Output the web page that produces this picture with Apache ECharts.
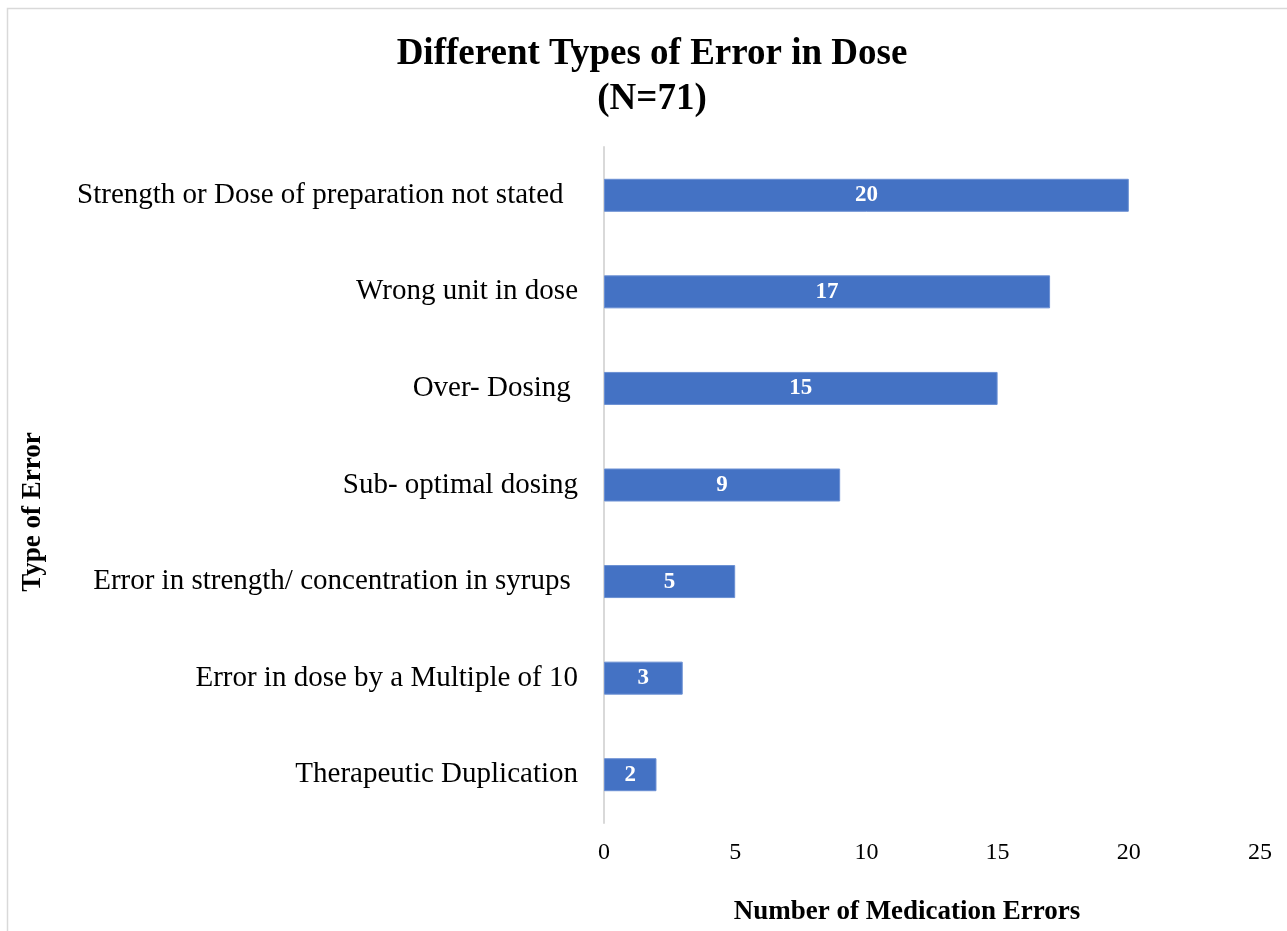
<!DOCTYPE html>
<html>
<head>
<meta charset="utf-8">
<script src="https://cdn.jsdelivr.net/npm/echarts@6/dist/echarts.min.js"></script>
<style>
  html, body { margin: 0; padding: 0; background: #fff; }
  #chart { width: 1287px; height: 931px; }
</style>
</head>
<body>
<div id="chart"></div>
<script>
// Error categories, listed top to bottom
const categories = [
  'Strength or Dose of preparation not stated  ',
  'Wrong unit in dose',
  'Over- Dosing ',
  'Sub- optimal dosing',
  'Error in strength/ concentration in syrups ',
  'Error in dose by a Multiple of 10',
  'Therapeutic Duplication'
];
// Number of medication errors per category
const errorCounts = [20, 17, 15, 9, 5, 3, 2];
// Value axis ticks
const axisMin = 0;
const axisMax = 25;
const axisStep = 5;

const serif = '"Liberation Serif", "Times New Roman", serif';

const chart = echarts.init(document.getElementById('chart'), null, { renderer: 'canvas' });
chart.setOption({
  backgroundColor: '#ffffff',
  animation: false,
  title: {
    text: 'Different Types of Error in Dose\n(N=71)',
    left: 647,
    top: 27,
    textAlign: 'center',
    textStyle: {
      fontFamily: serif,
      fontSize: 37,
      fontWeight: 'bold',
      color: '#000',
      lineHeight: 45
    }
  },
  graphic: [
    {
      type: 'rect',
      silent: true,
      shape: { x: 7.5, y: 8.5, width: 1400, height: 1000 },
      style: { fill: 'none', stroke: '#d9d9d9', lineWidth: 1.5 }
    },
    {
      type: 'text',
      silent: true,
      x: 33,
      y: 512,
      rotation: Math.PI / 2,
      style: {
        text: 'Type of Error',
        font: 'bold 27px ' + serif,
        fill: '#000',
        textAlign: 'center',
        textVerticalAlign: 'middle'
      }
    }
  ],
  grid: { left: 604, right: 27, top: 147, bottom: 108, containLabel: false },
  xAxis: {
    type: 'value',
    min: axisMin,
    max: axisMax,
    interval: axisStep,
    axisLine: { show: false },
    axisTick: { show: false },
    splitLine: { show: false },
    axisLabel: {
      fontFamily: serif,
      fontSize: 24,
      color: '#000',
      margin: 18
    },
    name: 'Number of Medication Errors',
    nameLocation: 'middle',
    nameGap: 76,
    nameTextStyle: {
      fontFamily: serif,
      fontSize: 27,
      fontWeight: 'bold',
      color: '#000',
      padding: [0, 50, 0, 0]
    }
  },
  yAxis: {
    type: 'category',
    data: categories,
    inverse: true,
    axisLine: { show: true, lineStyle: { color: '#d9d9d9', width: 2 } },
    axisTick: { show: false },
    splitLine: { show: false },
    axisLabel: {
      fontFamily: serif,
      fontSize: 29,
      color: '#000',
      margin: 26
    }
  },
  series: [{
    type: 'bar',
    data: errorCounts,
    barWidth: 33,
    itemStyle: { color: '#4472C4', borderColor: '#6a8fd3', borderWidth: 1 },
    label: {
      show: true,
      position: 'inside',
      fontFamily: serif,
      fontSize: 23,
      fontWeight: 'bold',
      color: '#fff'
    },
    z: 3
  }]
});
</script>
</body>
</html>
